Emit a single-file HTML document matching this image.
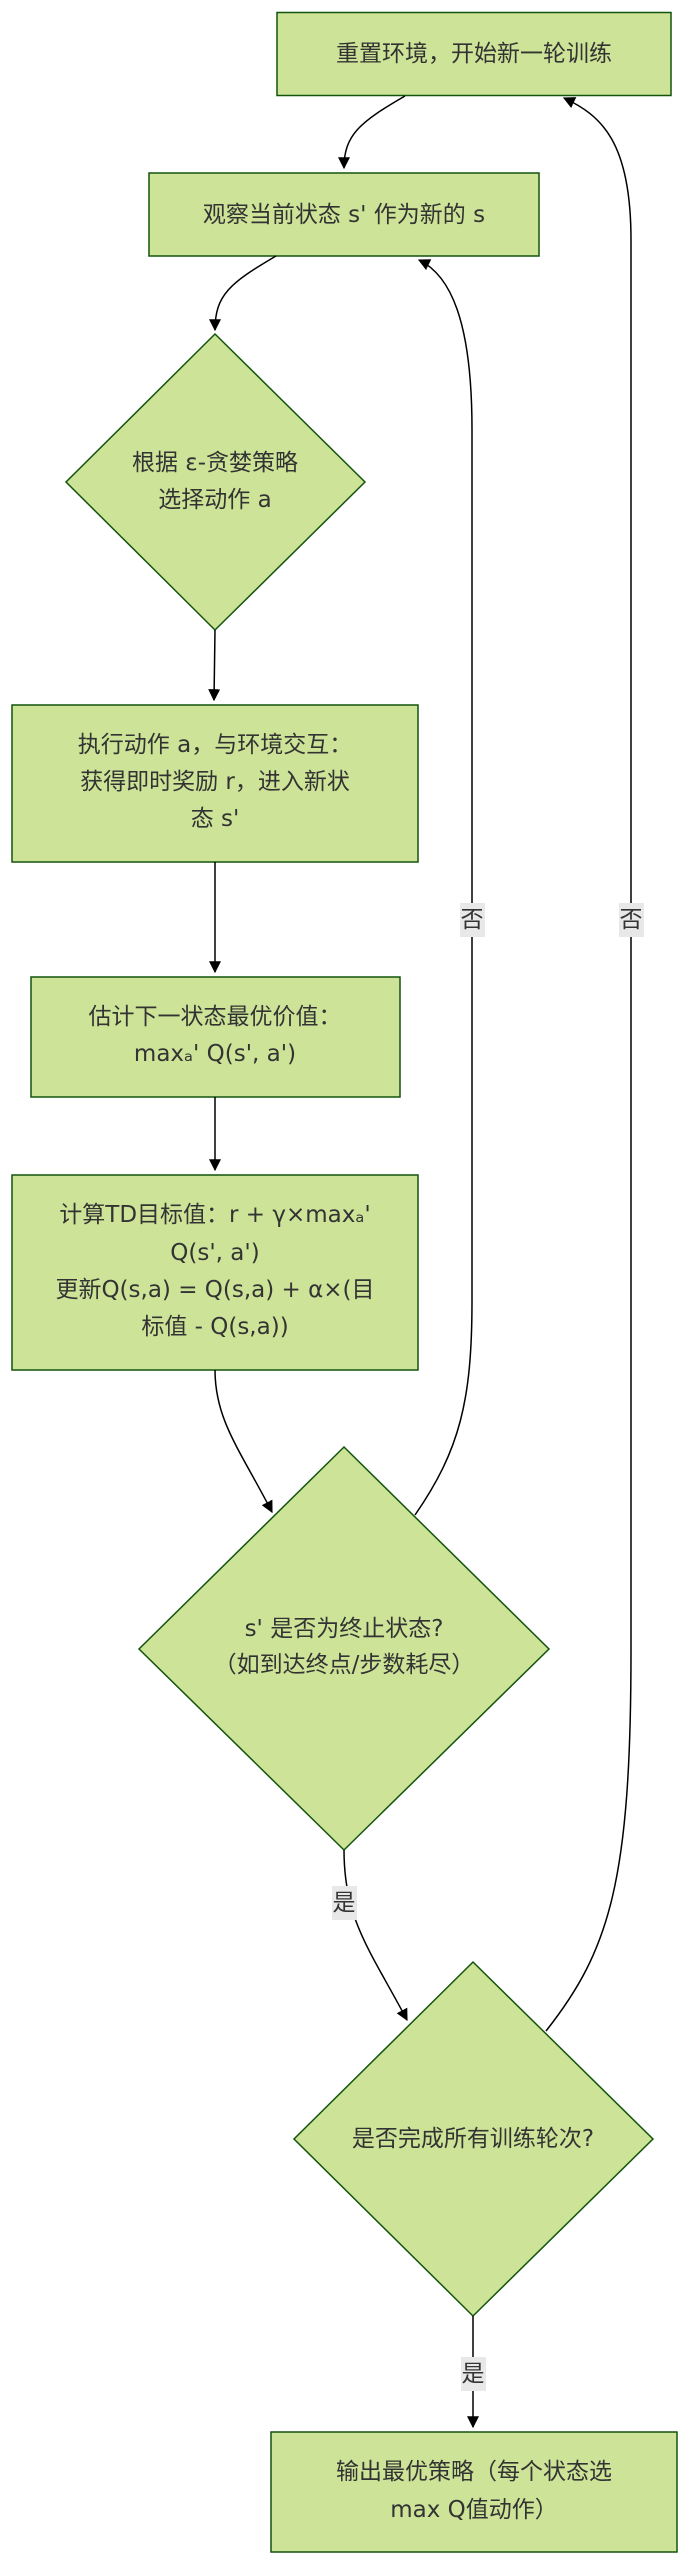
<!DOCTYPE html>
<html><head><meta charset="utf-8"><style>
html,body{margin:0;padding:0;background:#fff}
svg text{font-family:"DejaVu Sans","Noto Sans CJK SC",sans-serif;font-size:23px;fill:#333;text-anchor:middle;dominant-baseline:central}
</style></head><body>
<svg width="679" height="2560" viewBox="0 0 679 2560" xmlns="http://www.w3.org/2000/svg">
<defs><marker id="a" viewBox="0 0 10 10" refX="9" refY="5" markerWidth="8" markerHeight="8" orient="auto"><path d="M0,0L10,5L0,10z" fill="#000"/></marker></defs>
<g fill="#cde498" stroke="#13540c" stroke-width="1.5">
<rect x="277" y="12.5" width="394" height="83"/>
<rect x="149" y="173" width="390" height="83"/>
<polygon points="215,334 365,482 215,630 66,482"/>
<rect x="12" y="705" width="406" height="157"/>
<rect x="31" y="977" width="369" height="120"/>
<rect x="12" y="1175" width="406" height="195"/>
<polygon points="344,1447 549,1649 344,1850 139,1649"/>
<polygon points="473,1962 653,2139 473,2316 294,2139"/>
<rect x="271" y="2432" width="406" height="120"/>
</g>
<g fill="none" stroke="#000" stroke-width="1.5">
<path d="M405,96 C360,122 344,135 344,168" marker-end="url(#a)"/>
<path d="M276,256 C230,283 215,295 215,330" marker-end="url(#a)"/>
<path d="M215,630 L214,700" marker-end="url(#a)"/>
<path d="M215,862 L215,972" marker-end="url(#a)"/>
<path d="M215,1097 L215,1170" marker-end="url(#a)"/>
<path d="M215,1370 C215,1420 240,1450 272,1512" marker-end="url(#a)"/>
<path d="M415,1515 C460,1450 472,1400 472,1300 L472,430 C472,320 450,275 419,260" marker-end="url(#a)"/>
<path d="M344,1850 C344,1920 370,1950 407,2020" marker-end="url(#a)"/>
<path d="M546,2031 C610,1950 631,1880 631,1650 L631,240 C631,140 600,115 564,98" marker-end="url(#a)"/>
<path d="M473,2316 L473,2427" marker-end="url(#a)"/>
</g>
<g fill="#e8e8e8">
<rect x="460" y="903" width="25" height="34"/>
<rect x="619" y="903" width="25" height="34"/>
<rect x="332" y="1886" width="25" height="34"/>
<rect x="461" y="2357" width="25" height="34"/>
</g>
<text x="472" y="920">否</text>
<text x="631" y="920">否</text>
<text x="344" y="1903">是</text>
<text x="473" y="2374">是</text>
<text x="474" y="54">重置环境，开始新一轮训练</text>
<text x="344" y="215">观察当前状态 s' 作为新的 s</text>
<text x="215" y="463">根据 ε-贪婪策略</text>
<text x="215" y="500">选择动作 a</text>
<text x="215" y="745">执行动作 a，与环境交互：</text>
<text x="215" y="782">获得即时奖励 r，进入新状</text>
<text x="215" y="819">态 s'</text>
<text x="215" y="1017">估计下一状态最优价值：</text>
<text x="215" y="1054">maxₐ' Q(s', a')</text>
<text x="215" y="1215">计算TD目标值：r + γ×maxₐ'</text>
<text x="215" y="1253">Q(s', a')</text>
<text x="215" y="1290">更新Q(s,a) = Q(s,a) + α×(目</text>
<text x="215" y="1327">标值 - Q(s,a))</text>
<text x="344" y="1629">s' 是否为终止状态?</text>
<text x="344" y="1665">（如到达终点/步数耗尽）</text>
<text x="473" y="2139">是否完成所有训练轮次?</text>
<text x="474" y="2472">输出最优策略（每个状态选</text>
<text x="474" y="2510">max Q值动作）</text>
</svg>
</body></html>
